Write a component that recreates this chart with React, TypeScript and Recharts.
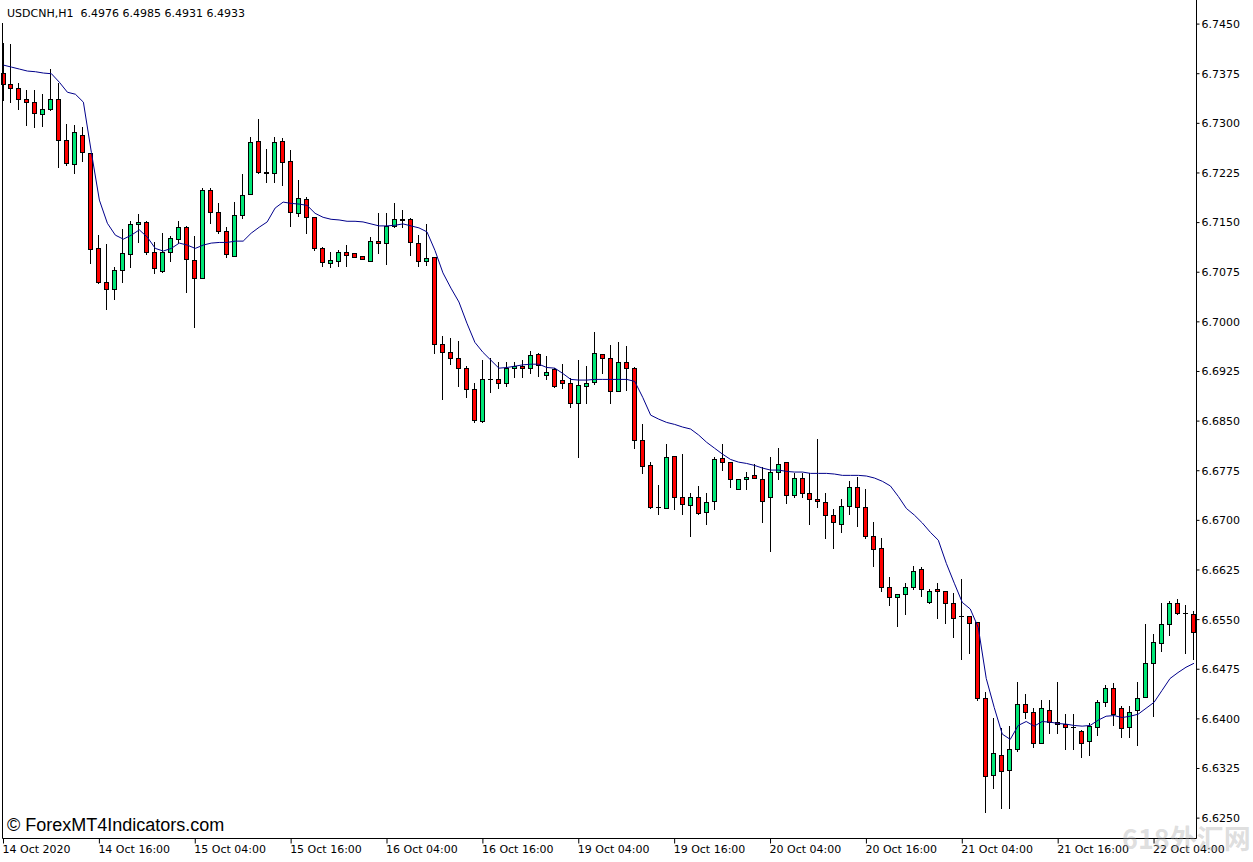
import { ComposedChart, Bar, Line, XAxis, YAxis } from "recharts";

document.body.style.margin = "0";

// USDCNH H1, 14 Oct 2020 - 22 Oct 2020, one entry per hourly bar
const opens = [
  6.7376, 6.7359, 6.7353, 6.7337, 6.7332, 6.7314, 6.7322, 6.7337, 6.7275, 6.7238,
  6.7282, 6.7255, 6.7111, 6.706, 6.7049, 6.7078, 6.7102, 6.7148, 6.7151, 6.7105,
  6.7077, 6.7105, 6.7125, 6.7143, 6.7093, 6.7066, 6.7199, 6.7166, 6.7137, 6.7099,
  6.7161, 6.7193, 6.7273, 6.7226, 6.7225, 6.7273, 6.7243, 6.7164, 6.7185, 6.7158,
  6.7111, 6.7089, 6.7092, 6.7105, 6.7104, 6.7099, 6.7092, 6.7122, 6.7119, 6.7145,
  6.7155, 6.7155, 6.7119, 6.7092, 6.7098, 6.6966, 6.6954, 6.6945, 6.693, 6.6898,
  6.685, 6.6913, 6.6913, 6.6907, 6.6931, 6.6933, 6.693, 6.6951, 6.6919, 6.6929,
  6.6912, 6.6907, 6.6877, 6.6903, 6.6909, 6.6951, 6.6945, 6.6895, 6.6939, 6.693,
  6.6822, 6.6783, 6.672, 6.6718, 6.6797, 6.6735, 6.6723, 6.6736, 6.6712, 6.6729,
  6.6794, 6.6788, 6.6748, 6.6762, 6.6768, 6.6762, 6.6735, 6.6773, 6.6788, 6.6739,
  6.6764, 6.6741, 6.6733, 6.6727, 6.6708, 6.6695, 6.6721, 6.675, 6.672, 6.6677,
  6.6658, 6.66, 6.6584, 6.6588, 6.6599, 6.6626, 6.6576, 6.6596, 6.6593, 6.6575,
  6.6555, 6.6555, 6.6546, 6.6432, 6.6315, 6.6346, 6.6322, 6.6355, 6.6423, 6.641,
  6.6364, 6.6414, 6.6395, 6.6392, 6.6387, 6.6381, 6.6366, 6.6387, 6.6425, 6.6446,
  6.6416, 6.6387, 6.6414, 6.6433, 6.6485, 6.6514, 6.6543, 6.6575, 6.656, 6.6558,
];

const highs = [
  6.7421, 6.742, 6.7361, 6.735, 6.735, 6.7344, 6.7382, 6.7361, 6.7299, 6.7297,
  6.7294, 6.7255, 6.7132, 6.7117, 6.7083, 6.714, 6.7152, 6.7163, 6.7152, 6.712,
  6.7134, 6.7129, 6.7152, 6.7145, 6.7129, 6.7202, 6.7202, 6.7179, 6.7143, 6.7181,
  6.7223, 6.7279, 6.7306, 6.7261, 6.7279, 6.7278, 6.726, 6.7214, 6.7188, 6.7158,
  6.7113, 6.7105, 6.7108, 6.7116, 6.7104, 6.71, 6.7128, 6.7164, 6.7164, 6.7179,
  6.7169, 6.7157, 6.7131, 6.7148, 6.7098, 6.6978, 6.6975, 6.6971, 6.6933, 6.6907,
  6.6943, 6.6945, 6.6939, 6.6939, 6.6939, 6.6942, 6.6956, 6.6953, 6.6948, 6.693,
  6.6936, 6.6915, 6.6943, 6.6934, 6.6984, 6.6951, 6.6965, 6.6969, 6.6963, 6.6932,
  6.6845, 6.6788, 6.6753, 6.6815, 6.6798, 6.68, 6.6741, 6.6752, 6.6741, 6.6795,
  6.6815, 6.6788, 6.6762, 6.6773, 6.6785, 6.678, 6.6795, 6.6809, 6.6788, 6.6771,
  6.6771, 6.6771, 6.6823, 6.6741, 6.6717, 6.6732, 6.6759, 6.6765, 6.6747, 6.6698,
  6.6673, 6.6614, 6.6588, 6.6605, 6.6631, 6.6629, 6.6597, 6.6606, 6.6593, 6.659,
  6.6611, 6.6555, 6.6546, 6.6441, 6.6402, 6.6386, 6.6389, 6.6455, 6.6438, 6.6417,
  6.6428, 6.6429, 6.6455, 6.6407, 6.6408, 6.6383, 6.6393, 6.6429, 6.6451, 6.6454,
  6.642, 6.642, 6.6455, 6.6543, 6.6529, 6.6575, 6.6578, 6.6581, 6.6572, 6.6563,
];

const lows = [
  6.7335, 6.7332, 6.7322, 6.7297, 6.7294, 6.7296, 6.732, 6.7234, 6.7237, 6.7225,
  6.7243, 6.7089, 6.7058, 6.7019, 6.7034, 6.706, 6.7083, 6.712, 6.7102, 6.7074,
  6.7075, 6.7092, 6.7119, 6.7045, 6.6992, 6.7066, 6.7149, 6.7134, 6.7098, 6.7099,
  6.7157, 6.7193, 6.7225, 6.7211, 6.7211, 6.7207, 6.7145, 6.716, 6.7135, 6.7108,
  6.7084, 6.7083, 6.7084, 6.7084, 6.7098, 6.7095, 6.7092, 6.7104, 6.7087, 6.7143,
  6.7143, 6.7101, 6.7084, 6.7086, 6.6953, 6.6883, 6.6937, 6.6903, 6.6886, 6.6848,
  6.6848, 6.6894, 6.69, 6.6903, 6.6916, 6.6916, 6.6922, 6.6918, 6.6913, 6.6901,
  6.69, 6.6871, 6.6795, 6.6878, 6.6906, 6.6922, 6.6878, 6.6895, 6.6897, 6.6809,
  6.6771, 6.6718, 6.6709, 6.6718, 6.6717, 6.6709, 6.6677, 6.6709, 6.6694, 6.6717,
  6.6776, 6.6751, 6.6748, 6.6748, 6.6764, 6.6697, 6.6653, 6.6762, 6.6726, 6.6736,
  6.6736, 6.6694, 6.672, 6.6673, 6.6658, 6.6682, 6.6709, 6.6692, 6.6674, 6.6631,
  6.6593, 6.6572, 6.6541, 6.6558, 6.6597, 6.6585, 6.6575, 6.6553, 6.6545, 6.6523,
  6.649, 6.6499, 6.6429, 6.6259, 6.6295, 6.6266, 6.6265, 6.6352, 6.6402, 6.6357,
  6.6363, 6.6378, 6.6378, 6.6355, 6.6355, 6.6342, 6.6346, 6.6375, 6.642, 6.639,
  6.6372, 6.6372, 6.636, 6.6433, 6.6405, 6.6503, 6.6526, 6.6558, 6.6499, 6.649,
];

const closes = [
  6.7359, 6.7353, 6.7337, 6.7332, 6.7315, 6.7322, 6.7337, 6.7275, 6.724, 6.7287,
  6.7256, 6.711, 6.706, 6.7049, 6.7078, 6.7104, 6.7148, 6.7151, 6.7105, 6.7081,
  6.7105, 6.7126, 6.7143, 6.7095, 6.7067, 6.72, 6.7166, 6.7137, 6.7102, 6.7161,
  6.7191, 6.7272, 6.7226, 6.7225, 6.7272, 6.7241, 6.7166, 6.7187, 6.7158, 6.7111,
  6.709, 6.7093, 6.7105, 6.7101, 6.7098, 6.7095, 6.7122, 6.7119, 6.7145, 6.7155,
  6.7154, 6.712, 6.7092, 6.7096, 6.6966, 6.6954, 6.6946, 6.693, 6.6898, 6.6851,
  6.6913, 6.6913, 6.6907, 6.6931, 6.6933, 6.693, 6.695, 6.6935, 6.6924, 6.6903,
  6.6907, 6.6877, 6.6904, 6.6907, 6.6953, 6.6945, 6.6895, 6.6939, 6.693, 6.6822,
  6.6782, 6.672, 6.672, 6.6795, 6.6735, 6.6724, 6.6736, 6.6711, 6.6727, 6.6792,
  6.6788, 6.6762, 6.6762, 6.6765, 6.6764, 6.6729, 6.6773, 6.6785, 6.6738, 6.6764,
  6.6741, 6.6732, 6.6729, 6.6708, 6.6697, 6.6721, 6.675, 6.672, 6.6676, 6.6656,
  6.66, 6.6584, 6.6588, 6.66, 6.6624, 6.6597, 6.6593, 6.6593, 6.6575, 6.6553,
  6.6555, 6.6545, 6.6431, 6.6313, 6.6348, 6.6321, 6.6355, 6.6422, 6.641, 6.6364,
  6.6416, 6.6395, 6.6392, 6.6387, 6.6387, 6.6364, 6.6389, 6.6425, 6.6446, 6.6408,
  6.6386, 6.6411, 6.6431, 6.6485, 6.6516, 6.6543, 6.6575, 6.656, 6.656, 6.6531,
];

// moving average (blue line)
const maValues = [
  6.7388, 6.7385, 6.7382, 6.7379, 6.7378, 6.7376, 6.7375, 6.7362, 6.7347, 6.7344,
  6.7332, 6.7256, 6.7184, 6.7149, 6.7131, 6.7125, 6.7131, 6.7139, 6.7128, 6.7111,
  6.7107, 6.7111, 6.7119, 6.7116, 6.7111, 6.7116, 6.7119, 6.712, 6.712, 6.7122,
  6.7122, 6.7134, 6.7143, 6.7151, 6.7172, 6.7181, 6.7179, 6.7178, 6.7176, 6.7164,
  6.7158, 6.7155, 6.7154, 6.7152, 6.7152, 6.7151, 6.7148, 6.7145, 6.7145, 6.7146,
  6.7148, 6.7145, 6.7142, 6.7136, 6.7108, 6.7074, 6.7051, 6.703, 6.6998, 6.6969,
  6.6954, 6.6942, 6.693, 6.6931, 6.6933, 6.6935, 6.6936, 6.6936, 6.6931, 6.693,
  6.6922, 6.6913, 6.6912, 6.6912, 6.6913, 6.6913, 6.6913, 6.6913, 6.6913, 6.691,
  6.6886, 6.6859, 6.6853, 6.6848, 6.6845, 6.6841, 6.6838, 6.6829, 6.6818, 6.6809,
  6.68, 6.6792, 6.6788, 6.6786, 6.6783, 6.6779, 6.6776, 6.6776, 6.6774, 6.6773,
  6.6773, 6.6771, 6.6771, 6.6771, 6.677, 6.6768, 6.6768, 6.6768, 6.6767, 6.6764,
  6.6759, 6.6752, 6.6736, 6.6718, 6.6708, 6.6696, 6.6682, 6.667, 6.6635, 6.6605,
  6.6576, 6.6566, 6.6538, 6.6461, 6.6417, 6.6377, 6.6369, 6.639, 6.6396, 6.6389,
  6.6396, 6.6395, 6.6393, 6.6392, 6.639, 6.6389, 6.639, 6.6398, 6.6404, 6.6405,
  6.6402, 6.6404, 6.6407, 6.6416, 6.6425, 6.6443, 6.6461, 6.647, 6.6478, 6.6484,
];

const tickLabels = [
  "14 Oct 2020", "14 Oct 16:00", "15 Oct 04:00", "15 Oct 16:00", "16 Oct 04:00",
  "16 Oct 16:00", "19 Oct 04:00", "19 Oct 16:00", "20 Oct 04:00", "20 Oct 16:00",
  "21 Oct 04:00", "21 Oct 16:00", "22 Oct 04:00",
];
const tickBars = [0, 12, 24, 36, 48, 60, 72, 84, 96, 108, 120, 132, 144];

const priceTicks = [
  6.745, 6.7375, 6.73, 6.7225, 6.715, 6.7075, 6.7, 6.6925, 6.685,
  6.6775, 6.67, 6.6625, 6.655, 6.6475, 6.64, 6.6325, 6.625,
];

const data = opens.map((open, i) => ({
  i,
  open,
  high: highs[i],
  low: lows[i],
  close: closes[i],
  ma: maValues[i],
}));

const UP = "#00e676";
const DOWN = "#ff0000";
const axisFont = "'DejaVu Sans', sans-serif";

function Candle(props: any) {
  const { x, y, width, height, payload } = props;
  const { open, close, high, low } = payload;
  const top = Math.min(y, y + height);
  const span = Math.abs(height);
  const toY = (v: number) => top + ((high - v) / (high - low)) * span;
  const cx = Math.floor(x + width / 2);
  const bTop = Math.round(toY(Math.max(open, close)));
  const bBot = Math.round(toY(Math.min(open, close)));
  const flat = bBot - bTop < 1;
  return (
    <g>
      <line x1={cx + 0.5} x2={cx + 0.5} y1={Math.round(top)} y2={Math.round(top + span) + 1} stroke="#000" strokeWidth={1} />
      {flat ? (
        <line x1={cx - 2} x2={cx + 3} y1={bTop + 0.5} y2={bTop + 0.5} stroke="#000" strokeWidth={1} />
      ) : (
        <rect
          x={cx - 1.5}
          y={bTop + 0.5}
          width={4}
          height={bBot - bTop}
          fill={close > open ? UP : DOWN}
          stroke="#000"
          strokeWidth={1}
        />
      )}
    </g>
  );
}

function TimeTick(props: any) {
  const { x, y, payload } = props;
  return (
    <text x={x - 1} y={y} dy="0.71em" textAnchor="start" fill="#000" fontSize={11} fontFamily={axisFont}>
      {tickLabels[tickBars.indexOf(payload.value)]}
    </text>
  );
}

export default function App() {
  return (
    <div style={{ position: "relative", width: 1253, height: 862, background: "#fff", overflow: "hidden" }}>
      <ComposedChart width={1253} height={862} data={data} margin={{ top: 0, right: 0, left: 0, bottom: 0 }}>
        <XAxis
          dataKey="i"
          type="category"
          ticks={tickBars}
          interval={0}
          height={23.5}
          tickSize={5}
          tickMargin={2}
          padding={{ left: -3, right: -1.5 }}
          axisLine={{ stroke: "#000" }}
          tickLine={{ stroke: "#000" }}
          tick={<TimeTick />}
        />
        <YAxis yAxisId="frame" orientation="left" width={2.5} domain={[0, 1]} tick={false} tickLine={false} axisLine={{ stroke: "#000" }} />
        <YAxis
          yAxisId="p"
          orientation="right"
          type="number"
          domain={[6.62192, 6.74864]}
          allowDataOverflow
          ticks={priceTicks}
          interval={0}
          width={56.5}
          tickSize={3}
          tickMargin={2}
          axisLine={{ stroke: "#000" }}
          tickLine={{ stroke: "#000" }}
          tick={{ fill: "#000", fontSize: 11, fontFamily: axisFont }}
          tickFormatter={(v: number) => v.toFixed(4)}
        />
        <Bar
          yAxisId="p"
          dataKey={(d: any) => [d.low, d.high]}
          barSize={5}
          shape={<Candle />}
          isAnimationActive={false}
        />
        <Line
          yAxisId="p"
          dataKey="ma"
          type="linear"
          stroke="#00008b"
          strokeWidth={1}
          dot={false}
          activeDot={false}
          isAnimationActive={false}
        />
      </ComposedChart>
      <div
        style={{
          position: "absolute",
          left: 0,
          top: 0,
          height: 23,
          boxSizing: "border-box",
          paddingTop: 2,
          paddingLeft: 7,
          paddingRight: 6,
          background: "#fff",
          fontFamily: axisFont,
          fontSize: 11,
          lineHeight: "23px",
          whiteSpace: "pre",
          color: "#000",
        }}
      >
        {"USDCNH,H1  6.4976 6.4985 6.4931 6.4933"}
      </div>
      <div
        style={{
          position: "absolute",
          left: 7,
          top: 816,
          fontFamily: "'Liberation Sans', Arial, sans-serif",
          fontSize: 18,
          lineHeight: "18px",
          color: "#000",
          whiteSpace: "pre",
        }}
      >
        © ForexMT4Indicators.com
      </div>
      <div
        style={{
          position: "absolute",
          left: 1122,
          top: 818,
          fontFamily: "'Noto Sans CJK SC', sans-serif",
          fontSize: 27,
          fontWeight: 700,
          lineHeight: "40px",
          color: "rgba(170,170,170,0.4)",
          whiteSpace: "pre",
        }}
      >
        618外汇网
      </div>
    </div>
  );
}
